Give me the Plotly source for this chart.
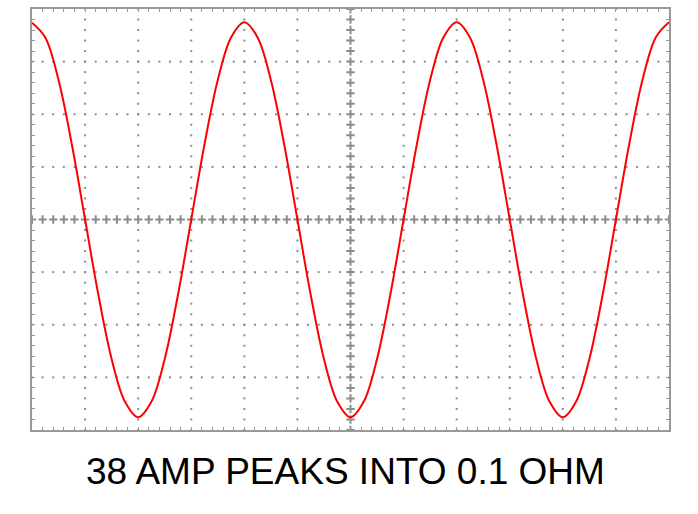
import numpy as np
import plotly.graph_objects as go

# Trace: horizontal position in divisions, vertical value in divisions
time_div = [i * 0.25 for i in range(49)]
signal_div = [
    3.74, 3.46, 2.65, 1.43, 0.00, -1.43, -2.65, -3.46, -3.76, -3.46, -2.65, -1.43,
    0.00, 1.43, 2.65, 3.46, 3.75, 3.46, 2.65, 1.43, 0.00, -1.43, -2.65, -3.46,
    -3.76, -3.46, -2.65, -1.43, 0.00, 1.43, 2.65, 3.46, 3.75, 3.46, 2.65, 1.43,
    0.00, -1.43, -2.65, -3.46, -3.76, -3.46, -2.65, -1.43, 0.00, 1.43, 2.65, 3.46, 3.75,
]
caption = "38 AMP PEAKS INTO 0.1 OHM"

X_DIV = 12
Y_DIV = 8
GRID = "#8c8c8c"

fig = go.Figure()

# graticule dots (every 1/5 division along each grid line)
gx, gy = [], []
for xv in range(1, X_DIV):
    if xv == X_DIV // 2:
        continue
    for yv in np.arange(-4, 4.0001, 0.2):
        gx.append(xv); gy.append(yv)
for yv in range(-3, 4):
    if yv == 0:
        continue
    for xv in np.arange(0, X_DIV + 0.0001, 0.2):
        gx.append(xv); gy.append(yv)
fig.add_trace(go.Scatter(x=gx, y=gy, mode="markers",
                         marker=dict(symbol="square", size=2, color=GRID, line=dict(width=0)),
                         hoverinfo="skip", showlegend=False))

# centre axes with cross ticks
cx, cy = [], []
for yv in np.arange(-4, 4.0001, 0.2):
    cx.append(X_DIV / 2); cy.append(yv)
for xv in np.arange(0, X_DIV + 0.0001, 0.2):
    cx.append(xv); cy.append(0)
fig.add_trace(go.Scatter(x=cx, y=cy, mode="markers",
                         marker=dict(symbol="cross-thin", size=6, color=GRID,
                                     line=dict(width=2, color=GRID)),
                         hoverinfo="skip", showlegend=False))

fig.add_trace(go.Scatter(x=time_div, y=signal_div, mode="lines",
                         line=dict(color="#ff0000", width=2, shape="spline"),
                         showlegend=False))

axis_common = dict(showgrid=False, zeroline=False, showticklabels=False,
                   showline=True, linecolor="#999999", linewidth=2, mirror="allticks",
                   ticks="inside", ticklen=3, tickwidth=1, tickcolor="#999999",
                   tick0=0, dtick=0.2)
fig.update_xaxes(range=[0, X_DIV], **axis_common)
fig.update_yaxes(range=[-Y_DIV / 2, Y_DIV / 2], **axis_common)

fig.add_annotation(text=caption, xref="paper", yref="paper", x=0.492, y=-0.045,
                   xanchor="center", yanchor="top", showarrow=False,
                   font=dict(family="Liberation Sans, Arial, sans-serif", size=37, color="#000000"))

fig.update_layout(width=698, height=514, margin=dict(l=32, r=29, t=7, b=84),
                  plot_bgcolor="white", paper_bgcolor="white")

fig.write_html("out.html", config={"displayModeBar": False},
               post_script="document.body.style.margin='0';document.body.style.padding='0';")
